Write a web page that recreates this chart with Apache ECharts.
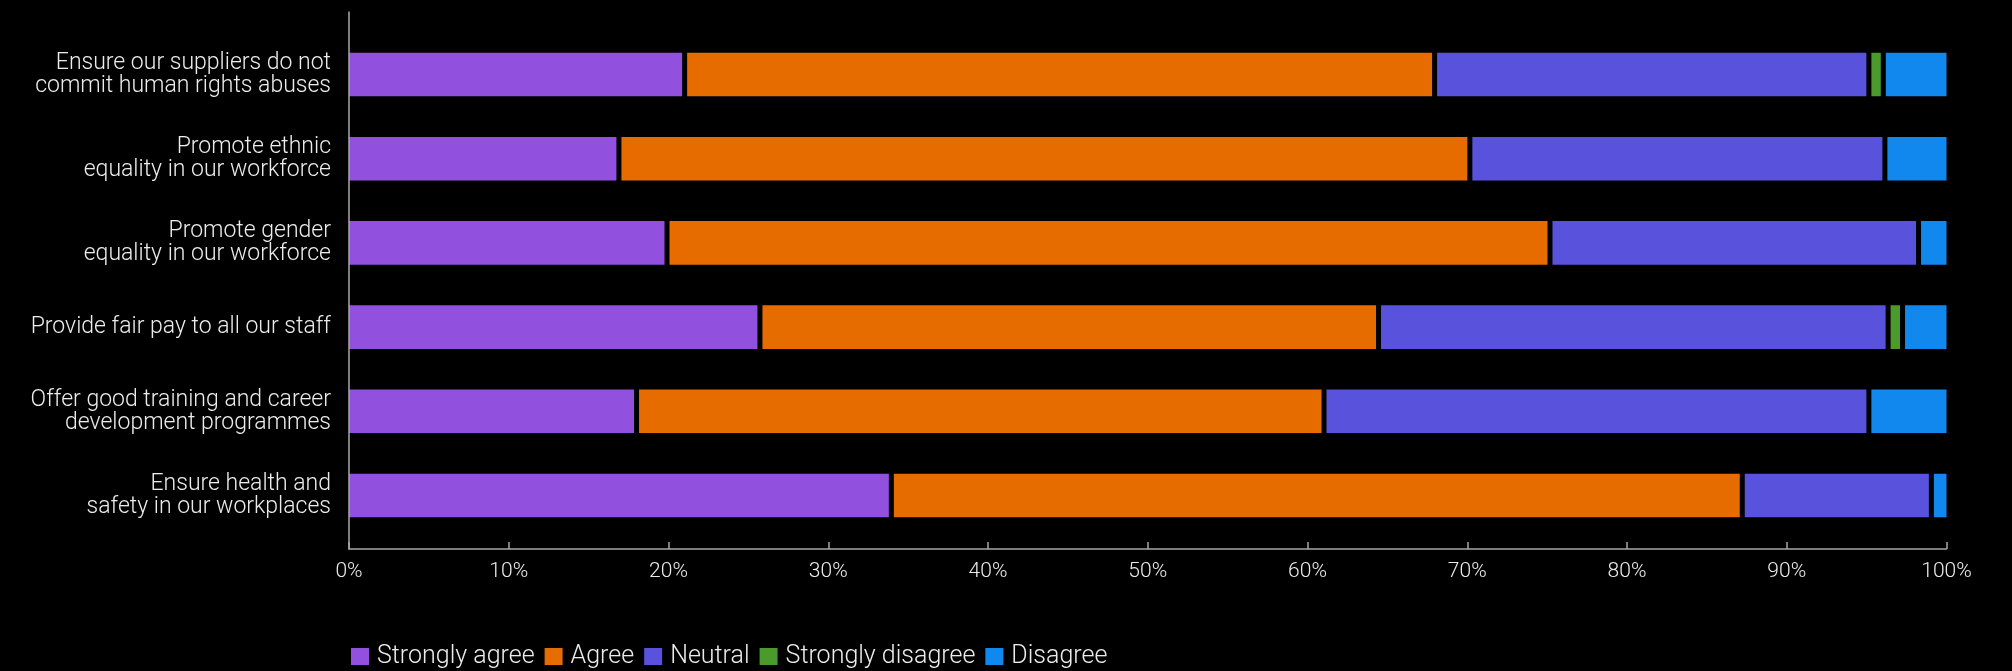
<!DOCTYPE html>
<html>
<head>
<meta charset="utf-8">
<script src="https://cdn.jsdelivr.net/npm/echarts@6/dist/echarts.min.js"></script>
<style>
  html, body { margin: 0; padding: 0; background: #000; }
  #chart { width: 2012px; height: 671px; }
</style>
</head>
<body>
<div id="chart"></div>
<script>
// Survey statements (top to bottom)
const categories = [
  'Ensure our suppliers do not\ncommit human rights abuses',
  'Promote ethnic\nequality in our workforce',
  'Promote gender\nequality in our workforce',
  'Provide fair pay to all our staff',
  'Offer good training and career\ndevelopment programmes',
  'Ensure health and\nsafety in our workplaces'
];

// Share of responses, % per statement
const stronglyAgree    = [21.1, 17.0, 20.0, 25.8, 18.1, 34.0];
const agree            = [46.8, 53.1, 55.1, 38.6, 42.9, 53.1];
const neutral          = [27.1, 25.9, 23.0, 31.8, 34.0, 11.8];
const stronglyDisagree = [0.9, 0, 0, 0.9, 0, 0];
const disagree         = [4.1, 4.0, 1.9, 2.9, 5.0, 1.1];

const xTicks = [0, 10, 20, 30, 40, 50, 60, 70, 80, 90, 100];

const seriesDefs = [
  { name: 'Strongly agree',    data: stronglyAgree,    color: '#9150DE' },
  { name: 'Agree',             data: agree,            color: '#E66C00' },
  { name: 'Neutral',           data: neutral,          color: '#5952DD' },
  { name: 'Strongly disagree', data: stronglyDisagree, color: '#4A9A2C' },
  { name: 'Disagree',          data: disagree,         color: '#1188EE' }
];

const FONT = 'Roboto';
const TEXT = '#ececec';
const AXIS = '#a8a8a8';
const SEP = 2.5; // black separator drawn inside each segment

const chart = echarts.init(document.getElementById('chart'), null, { renderer: 'canvas' });

chart.setOption({
  backgroundColor: '#000',
  animation: false,
  grid: [
    // bars (widened by the separator so outer edges meet the frame)
    { left: 349 - SEP, right: 65.5 - SEP, top: 32.4, bottom: 133.4 },
    // frame axes
    { left: 349, right: 65.5, top: 12, bottom: 122 }
  ],
  legend: {
    left: 349,
    top: 644,
    padding: 0,
    itemWidth: 20,
    itemHeight: 19,
    itemGap: 8,
    icon: 'rect',
    textStyle: { color: TEXT, fontFamily: FONT, fontWeight: 300, fontSize: 25, padding: [0, 0, 0, 2] },
    data: seriesDefs.map(s => s.name)
  },
  xAxis: [
    { gridIndex: 0, type: 'value', min: 0, max: 100, show: false },
    {
      gridIndex: 1, type: 'value', min: 0, max: 100, interval: 10,
      axisLine: { show: true, lineStyle: { color: AXIS, width: 1.5 } },
      axisTick: { show: true, inside: true, length: 7, lineStyle: { color: AXIS, width: 1.5 } },
      splitLine: { show: false },
      axisLabel: {
        color: TEXT, fontFamily: FONT, fontWeight: 300, fontSize: 21, margin: 12,
        formatter: v => v + '%'
      },
      data: xTicks
    }
  ],
  yAxis: [
    {
      gridIndex: 0, type: 'category', data: categories, inverse: true,
      axisLine: { show: false }, axisTick: { show: false },
      axisLabel: {
        color: TEXT, fontFamily: FONT, fontWeight: 300, fontSize: 23,
        lineHeight: 23, margin: 18 - SEP, align: 'right'
      }
    },
    {
      gridIndex: 1, type: 'value', min: 0, max: 1, z: 5,
      axisLine: { show: true, lineStyle: { color: AXIS, width: 1.5 } },
      axisTick: { show: false }, axisLabel: { show: false }, splitLine: { show: false }
    }
  ],
  series: seriesDefs.map(s => ({
    name: s.name,
    type: 'bar',
    stack: 'total',
    xAxisIndex: 0,
    yAxisIndex: 0,
    barWidth: 43.6 + 2 * SEP,
    data: s.data,
    itemStyle: { color: s.color, borderColor: '#000', borderWidth: SEP }
  }))
});
</script>
</body>
</html>
